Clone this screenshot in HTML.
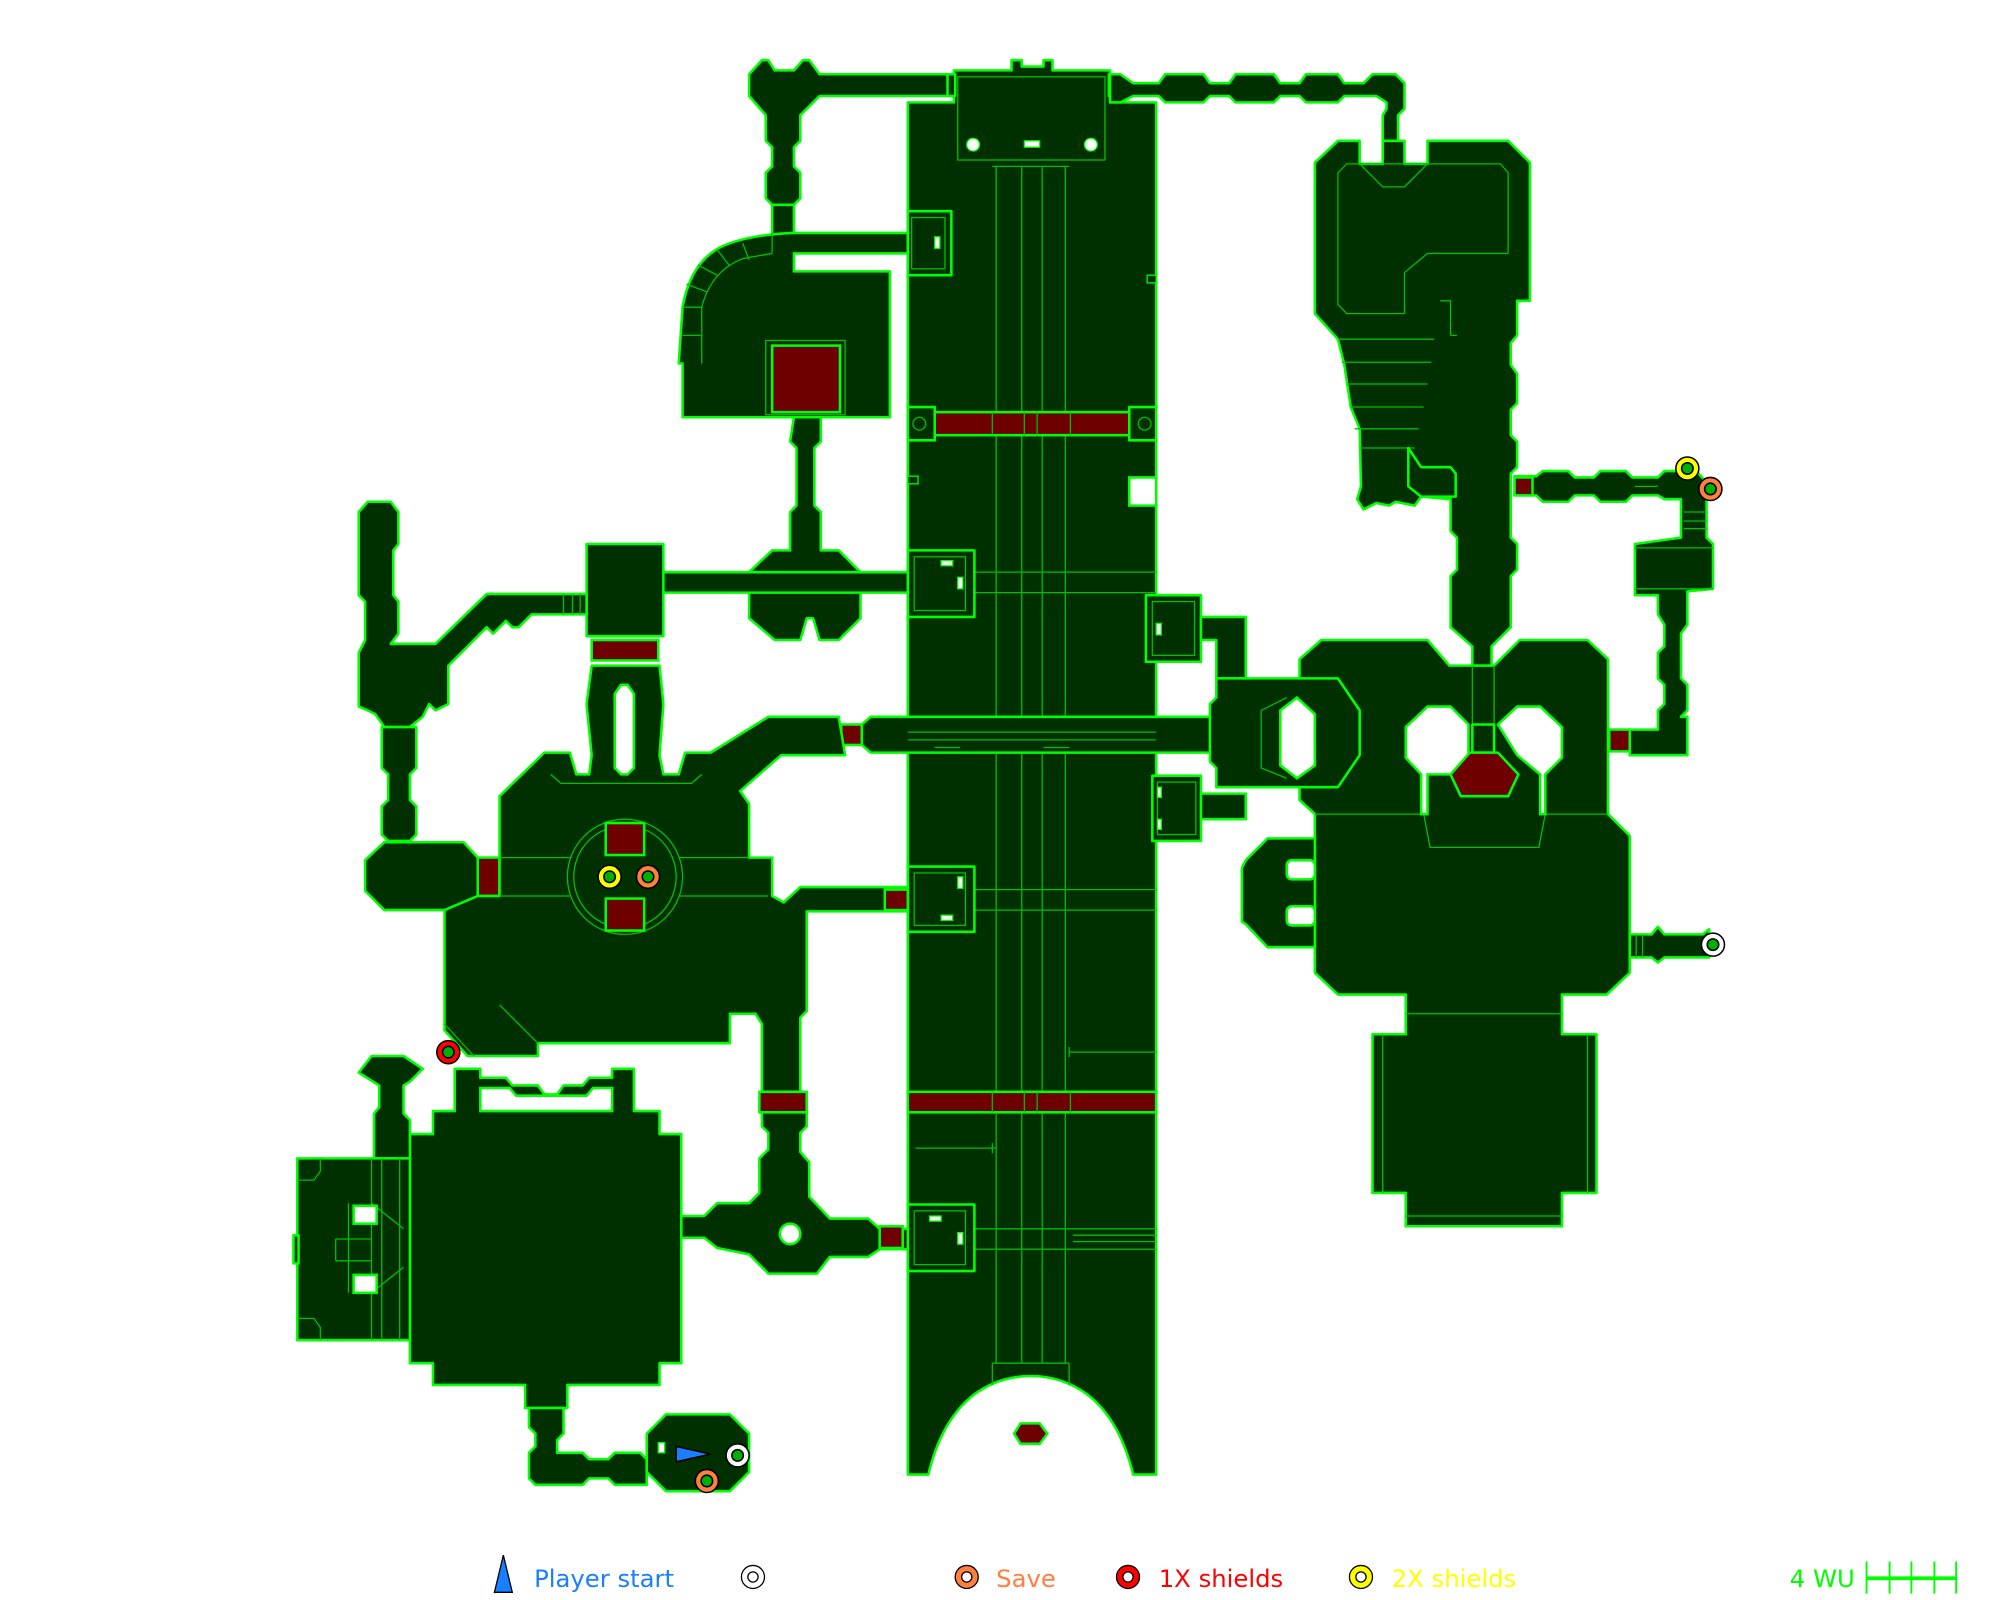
<!DOCTYPE html>
<html><head><meta charset="utf-8"><style>
html,body{margin:0;padding:0;background:#fff;width:2000px;height:1600px;overflow:hidden}
svg{display:block}
.r{fill:#003000;stroke:#00ff00;stroke-width:2;stroke-linejoin:round}
.d{fill:#6e0000;stroke:#00ff00;stroke-width:2}
.w{fill:#fff;stroke:#00ff00;stroke-width:2}
.t{fill:none;stroke:#00c000;stroke-width:1}
text{font-family:"DejaVu Sans","Liberation Sans",sans-serif;font-size:19px}
</style></head><body>
<svg width="2000" height="1600" viewBox="0 0 1562 1250" xmlns="http://www.w3.org/2000/svg">
<!-- top left corridor -->
<polygon class="r" points="585,58 595,47 600,47 605,55 620,55 627,47 632,47 640,58 745,58 745,75 640,75 625,90 625,110 620,115 620,130 625,135 625,155 620,160 603,160 598,155 598,135 603,130 603,115 598,110 598,90 585,75"/>
<rect class="r" x="603" y="160" width="17" height="25"/>
<path class="r" d="M530,284 L533,240 Q540,200 570,190 Q590,183 620,182 L709,182 L709,198 L620,198 L620,212 L695,212 L695,326 L533,326 L533,284 Z"/>
<path class="t" d="M548,284 L548,240 Q555,212 580,202 L603,198 M533,262 L548,262 M533,240 L548,240 M536,222 L552,228 M545,207 L560,215 M560,195 L570,208 M580,190 L585,203 M603,182 L603,198"/>
<rect class="d" x="603" y="270" width="53" height="52"/>
<rect class="t" x="598" y="266" width="62" height="58"/>
<!-- main column -->
<path class="r" d="M709,80 L745,80 L745,55 L790,55 L790,47 L798,47 L798,52 L815,52 L815,47 L822,47 L822,55 L867,55 L867,80 L903,80 L903,1152 L885,1152 Q875,1110 850,1090 Q830,1075 805,1075 Q780,1075 760,1090 Q735,1110 725,1152 L709,1152 Z"/>
<rect class="r" x="709" y="165" width="34" height="50"/>
<rect class="t" x="712" y="170" width="26" height="40"/>
<rect class="t" x="748" y="60" width="115" height="65"/>
<rect class="r" x="740" y="58" width="6" height="17"/><rect class="r" x="866" y="58" width="6" height="17"/>
<circle cx="760" cy="113" r="5" fill="#fff" stroke="#0f0"/><circle cx="852" cy="113" r="5" fill="#fff" stroke="#0f0"/>
<rect x="800" y="110" width="12" height="5" fill="#fff" stroke="#0f0"/>
<path class="t" d="M778,130 V1065 M798,130 V1065 M814,130 V1065 M832,130 V1065 M775,130 H835 M709,447 H903 M709,463 H903 M709,695 H903 M709,711 H903 M709,960 H903 M709,976 H903 M775,1065 V1082 M835,1065 V1082 M775,1065 H835"/>
<rect class="d" x="730" y="322" width="152" height="18"/>
<path class="t" d="M775,322 V340 M800,322 V340 M810,322 V340 M836,322 V340"/>
<rect class="r" x="709" y="318" width="21" height="26"/><rect class="r" x="882" y="318" width="21" height="26"/>
<circle cx="718" cy="331" r="5" class="t"/><circle cx="894" cy="331" r="5" class="t"/>
<rect class="d" x="709" y="853" width="194" height="16"/>
<path class="t" d="M775,853 V869 M800,853 V869 M810,853 V869 M836,853 V869"/>
<polygon class="w" points="882,373 903,373 903,395 882,395"/>
<rect x="896" y="215" width="7" height="6" fill="#003000" stroke="#0f0"/>
<rect x="709" y="372" width="8" height="6" fill="#003000" stroke="#0f0"/>
<path class="t" d="M835,822 H903 M835,818 V826 M715,897 H778 M775,893 V901 M838,965 H903 M838,970 H903"/>
<polygon class="d" points="797,1112 812,1112 818,1120 812,1128 797,1128 792,1120"/>
<!-- small rooms on column -->
<rect class="r" x="709" y="430" width="52" height="52"/><rect class="t" x="714" y="435" width="40" height="42"/>
<rect class="r" x="709" y="677" width="52" height="51"/><rect class="t" x="714" y="682" width="40" height="41"/>
<rect class="r" x="709" y="941" width="52" height="52"/><rect class="t" x="714" y="946" width="40" height="42"/>
<rect class="r" x="895" y="465" width="43" height="52"/><rect class="t" x="900" y="470" width="33" height="42"/>
<polygon class="r" points="938,482 973,482 973,530 950,530 950,500 938,500"/>
<rect class="r" x="900" y="606" width="38" height="51"/><rect class="t" x="904" y="611" width="30" height="41"/>
<polygon class="r" points="938,620 973,620 973,640 938,640"/>
<g fill="#fff" stroke="#0f0"><rect x="735" y="438" width="9" height="4"/><rect x="748" y="451" width="4" height="9"/><rect x="748" y="685" width="4" height="9"/><rect x="735" y="715" width="9" height="4"/><rect x="726" y="950" width="9" height="4"/><rect x="748" y="963" width="4" height="9"/><rect x="903" y="487" width="4" height="9"/><rect x="730" y="185" width="4" height="9"/><rect x="904" y="615" width="3" height="8"/><rect x="904" y="640" width="3" height="8"/></g>
<!-- middle horizontal corridor -->
<polygon class="r" points="673,566 680,560 965,560 965,588 680,588 673,582"/>
<path class="t" d="M709,572 H903 M709,578 H903 M730,584 H750 M815,584 H835"/>
<rect class="d" x="657" y="566" width="16" height="16"/><rect class="d" x="950" y="566" width="16" height="16"/>
<!-- T junction -->
<polygon class="r" points="620,326 641,326 641,345 636,350 636,395 641,400 641,430 655,430 672,447 672,483 655,500 640,500 635,483 630,483 625,500 605,500 585,483 585,447 603,430 617,430 617,400 622,395 622,350 617,345"/>
<rect class="r" x="517" y="447" width="192" height="16"/>
<!-- room 458 -->
<rect class="r" x="458" y="425" width="60" height="72"/>
<rect class="d" x="462" y="500" width="52" height="16"/>
<polygon class="r" points="380,464 458,464 458,480 415,480 405,490 400,490 395,485 385,495 380,490 350,520 350,550 340,555 335,550 330,560 320,568 300,568 293,558 287,555 280,552 280,510 285,500 285,470 280,465 280,400 287,392 305,392 311,400 311,425 307,430 307,465 311,470 311,495 305,503 340,503"/>
<path class="t" d="M440,464 V480 M447,464 V480 M453,464 V480"/>
<polygon class="r" points="298,568 325,568 325,600 320,605 320,625 325,630 325,652 320,657 303,657 298,652 298,630 303,625 303,605 298,600"/>
<polygon class="r" points="300,658 362,658 373,670 373,700 362,711 300,711 285,696 285,672"/>
<rect class="d" x="373" y="670" width="17" height="30"/>
<!-- big central room -->
<polygon class="r" points="390,622 425,588 445,588 450,605 460,605 462,590 458,550 462,520 515,520 518,550 515,590 518,605 530,605 535,588 555,588 600,560 655,560 660,590 610,590 578,618 585,628 585,670 603,670 603,700 612,705 625,693 709,693 709,712 630,712 630,790 625,795 625,853 595,853 595,800 590,792 570,792 570,815 420,815 420,825 365,825 347,805 347,711 373,700 390,700"/>
<polygon fill="#fff" stroke="#0f0" stroke-width="2" points="480,542 485,535 490,535 495,542 495,600 490,605 485,605 480,600"/>
<path class="t" d="M430,605 L438,612 H540 L548,605 M390,670 H445 M530,670 H585 M390,700 H445 M530,700 H600 M390,785 L420,815 M347,800 L370,825"/>
<circle cx="488" cy="685" r="45" class="t"/><circle cx="488" cy="685" r="40" class="t"/>
<rect class="d" x="473" y="643" width="30" height="25"/><rect class="d" x="473" y="702" width="30" height="25"/>
<rect class="d" x="691" y="695" width="18" height="16"/>
<rect class="d" x="593" y="853" width="37" height="16"/>
<!-- lower junction -->
<polygon class="r" points="595,869 630,869 630,880 625,885 625,900 632,908 632,935 648,952 678,952 687,960 709,960 709,976 687,976 678,982 648,982 638,995 600,995 585,980 560,975 550,967 532,967 532,950 550,950 560,940 585,940 593,932 593,905 600,898 600,885 595,880"/>
<circle cx="617" cy="964" r="8" fill="#fff" stroke="#0f0" stroke-width="2"/>
<rect class="d" x="687" y="958" width="18" height="17"/>
<rect class="d" x="514" y="950" width="18" height="17"/>
<!-- bottom left big room -->
<polygon class="r" points="338,868 355,868 355,835 375,835 375,842 395,842 400,848 420,848 425,855 435,855 440,848 455,848 460,842 478,842 478,835 495,835 495,868 515,868 515,886 532,886 532,1065 515,1065 515,1082 443,1082 443,1100 410,1100 410,1082 338,1082 338,1065 320,1065 320,886 338,886"/>
<polygon fill="#fff" stroke="#0f0" stroke-width="2" points="375,868 375,850 398,850 403,856 458,856 463,850 478,850 478,868"/>
<polygon class="r" points="290,825 315,825 330,835 320,845 315,848 315,870 320,875 320,905 292,905 292,870 296,865 296,848 280,838"/>
<rect class="r" x="232" y="905" width="88" height="142"/>
<path class="t" d="M232,922 H245 L250,915 V905 M232,1030 H245 L250,1037 V1047 M290,905 V1047 M298,905 V1047 M312,905 V1047 M262,968 H290 M262,985 H290 M262,968 V985 M272,940 L272,1010 M290,940 L315,960 M290,1010 L315,990"/>
<rect x="276" y="942" width="18" height="14" fill="#fff" stroke="#0f0" stroke-width="2"/>
<rect x="276" y="996" width="18" height="14" fill="#fff" stroke="#0f0" stroke-width="2"/>
<rect class="r" x="229" y="965" width="4" height="22"/>
<polygon class="r" points="413,1100 440,1100 440,1120 435,1125 435,1135 455,1135 460,1140 475,1140 480,1135 500,1135 505,1140 505,1160 480,1160 475,1155 460,1155 455,1160 418,1160 413,1155 413,1135 418,1130 418,1120 413,1115"/>
<polygon class="r" points="520,1105 570,1105 585,1120 585,1150 570,1165 520,1165 505,1150 505,1120"/>
<rect x="514" y="1127" width="5" height="8" fill="#fff" stroke="#0f0"/>
<!-- top right -->
<polygon class="r" points="867,58 875,58 885,65 905,65 910,58 940,58 945,65 960,65 965,58 995,58 1000,65 1015,65 1020,58 1045,58 1050,65 1065,65 1072,58 1090,58 1097,65 1097,85 1092,90 1092,110 1080,110 1080,90 1083,85 1083,80 1075,75 1050,75 1045,80 1020,80 1015,75 1000,75 995,80 965,80 960,75 945,75 940,80 910,80 905,75 885,75 875,80 867,80"/>
<polygon class="r" points="1045,110 1062,110 1062,128 1080,128 1080,110 1097,110 1097,128 1115,128 1115,110 1178,110 1195,127 1195,235 1185,235 1185,262 1180,268 1180,285 1185,292 1185,315 1180,320 1180,340 1185,345 1185,365 1180,370 1180,420 1185,425 1185,445 1180,450 1180,490 1165,505 1165,520 1150,520 1150,505 1133,490 1133,450 1138,445 1138,420 1133,415 1133,390 1110,388 1105,395 1090,392 1085,395 1075,393 1065,398 1060,390 1063,380 1062,335 1055,318 1050,285 1045,265 1027,245 1027,127"/>
<path class="t" d="M1045,135 L1052,128 H1172 L1178,135 V198 M1045,135 V238 L1052,245 H1097 M1097,245 V213 L1115,198 H1178 M1062,128 L1080,146 H1097 L1115,128 M1045,265 H1120 M1048,283 H1118 M1052,300 H1115 M1055,318 H1112 M1058,335 H1108 M1062,350 H1105 M1125,235 H1133 V262 M1133,262 H1138"/>
<path class="r" d="M1100,350 L1110,365 L1133,365 L1137,370 L1137,388 L1110,388 L1100,380 Z"/>
<!-- right corridor upper -->
<polygon class="r" points="1183,372 1200,372 1205,368 1225,368 1230,373 1245,373 1250,368 1270,368 1275,373 1295,373 1300,368 1325,368 1333,377 1333,420 1338,425 1338,460 1318,462 1318,488 1313,495 1313,530 1318,535 1318,555 1313,560 1318,560 1318,590 1273,590 1273,570 1295,570 1295,555 1300,550 1300,535 1295,530 1295,510 1300,505 1300,488 1295,480 1295,465 1277,465 1277,425 1313,420 1313,390 1300,390 1295,387 1275,387 1270,392 1250,392 1245,387 1230,387 1225,392 1205,392 1200,387 1183,387"/>
<path class="t" d="M1315,400 H1333 M1315,407 H1333 M1315,413 H1333 M1277,428 H1338 M1277,460 H1338 M1277,380 H1295"/>
<rect class="d" x="1183" y="373" width="14" height="14"/>
<rect class="d" x="1257" y="570" width="16" height="17"/>
<!-- big right complex -->
<polygon class="r" points="1015,515 1032,500 1115,500 1132,520 1167,520 1187,500 1240,500 1256,515 1256,636 1273,653 1273,760 1255,777 1220,777 1220,808 1247,808 1247,932 1220,932 1220,958 1098,958 1098,932 1072,932 1072,808 1098,808 1098,777 1045,777 1027,760 1027,636 1015,625"/>
<path class="t" d="M1080,808 V932 M1240,808 V932 M1098,792 H1220 M1098,950 H1220 M1027,636 H1112 M1207,636 H1256 M1112,636 L1117,662 H1202 L1207,636 M1150,520 V566 M1167,520 V566"/>
<polygon fill="#fff" stroke="#0f0" stroke-width="2" points="1115,552 1133,552 1147,566 1147,590 1133,605 1115,605 1115,636 1110,636 1110,605 1098,592 1098,568"/>
<polygon fill="#fff" stroke="#0f0" stroke-width="2" points="1185,552 1203,552 1220,568 1220,592 1207,605 1207,636 1203,636 1203,605 1185,590 1170,566"/>
<rect class="r" x="1150" y="566" width="17" height="22"/>
<polygon class="d" points="1133,605 1148,588 1170,588 1186,605 1178,622 1141,622"/>
<polygon class="r" points="950,530 1045,530 1062,555 1062,590 1045,615 950,615 950,600 945,595 945,550 950,545"/>
<path class="t" d="M985,555 L1005,545 M985,600 L1005,608 M985,555 V600"/>
<polygon fill="#fff" stroke="#0f0" stroke-width="2" points="1013,545 1027,558 1027,598 1013,608 1000,598 1000,555"/>
<polygon class="r" points="990,655 1027,655 1027,740 990,740 973,722 970,720 970,678 973,672"/>
<rect fill="#fff" stroke="#0f0" stroke-width="2" x="1005" y="672" width="22" height="15" rx="4"/>
<rect fill="#fff" stroke="#0f0" stroke-width="2" x="1005" y="708" width="22" height="15" rx="4"/>
<polygon class="r" points="1273,730 1290,730 1295,724 1300,730 1330,730 1335,726 1335,748 1300,748 1295,752 1290,748 1273,748"/>
<path class="t" d="M1278,730 V748 M1283,730 V748"/>
<!-- markers -->
<g stroke="#000" stroke-width="1.2">
<circle cx="1318" cy="366" r="9" fill="#ffff00"/><circle cx="1318" cy="366" r="4.5" fill="#00b000"/>
<circle cx="1336" cy="382" r="9" fill="#ff7f3f"/><circle cx="1336" cy="382" r="4.5" fill="#00b000"/>
<circle cx="1338" cy="738" r="9" fill="#fff"/><circle cx="1338" cy="738" r="4.5" fill="#00b000"/>
<circle cx="476" cy="685" r="9" fill="#ffff00"/><circle cx="476" cy="685" r="4.5" fill="#00b000"/>
<circle cx="506" cy="685" r="9" fill="#ff7f3f"/><circle cx="506" cy="685" r="4.5" fill="#00b000"/>
<circle cx="350" cy="822" r="9" fill="#ff0000"/><circle cx="350" cy="822" r="4.5" fill="#00b000"/>
<circle cx="576" cy="1137" r="9" fill="#fff"/><circle cx="576" cy="1137" r="4.5" fill="#00b000"/>
<circle cx="552" cy="1157" r="9" fill="#ff7f3f"/><circle cx="552" cy="1157" r="4.5" fill="#00b000"/>
<polygon points="528,1130 555,1136 528,1142" fill="#1a7fff"/>
</g>
<!-- legend -->
<g stroke="#000" stroke-width="1">
<polygon points="393,1215 400,1244 386,1244" fill="#1a7fff"/>
<circle cx="588" cy="1232" r="9" fill="#fff"/><circle cx="588" cy="1232" r="4" fill="#fff"/>
<circle cx="755" cy="1232" r="9" fill="#ff7f3f"/><circle cx="755" cy="1232" r="4" fill="#fff"/>
<circle cx="881" cy="1232" r="9" fill="#ff0000"/><circle cx="881" cy="1232" r="4" fill="#fff"/>
<circle cx="1063" cy="1232" r="9" fill="#ffff00"/><circle cx="1063" cy="1232" r="4" fill="#fff"/>
</g>
<text x="417" y="1240" fill="#1a7fff">Player start</text>
<text x="778" y="1240" fill="#ff7f3f">Save</text>
<text x="905" y="1240" fill="#ff0000">1X shields</text>
<text x="1087" y="1240" fill="#ffff00">2X shields</text>
<text x="1398" y="1240" fill="#00ff00">4 WU</text>
<path d="M1458,1220 V1245 M1476,1220 V1245 M1493,1220 V1245 M1511,1220 V1245 M1528,1220 V1245" stroke="#00ff00" stroke-width="1.5"/>
<path d="M1458,1233 H1528" stroke="#00ff00" stroke-width="3"/>
</svg>
</body></html>
